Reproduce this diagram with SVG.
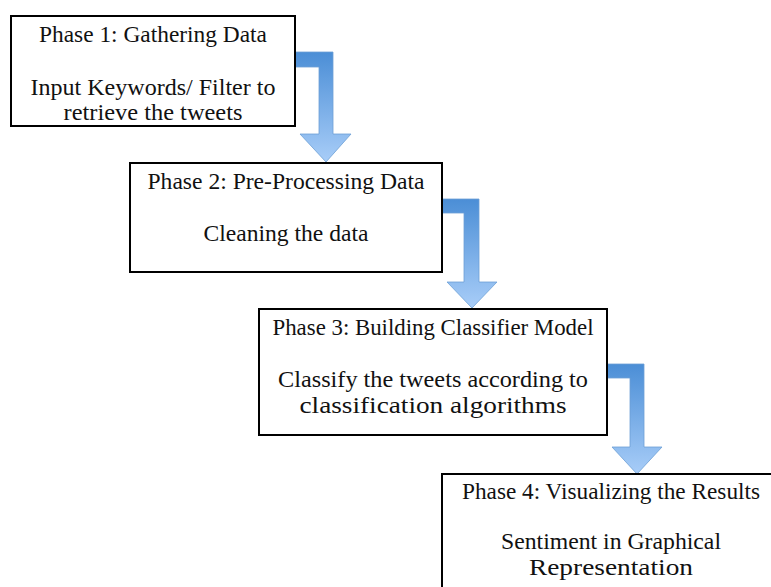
<svg xmlns="http://www.w3.org/2000/svg" width="771" height="587" viewBox="0 0 771 587">
  <defs>
    <linearGradient id="blueGrad" x1="0" y1="0" x2="0" y2="1">
      <stop offset="0" stop-color="#4b8ed6"/>
      <stop offset="1" stop-color="#a8cdf8"/>
    </linearGradient>
    <style>
      .box { fill: #ffffff; stroke: #000000; stroke-width: 2; }
      .lbl { font-family: "Liberation Serif", "Times New Roman", serif; font-size: 23px; fill: #111111; text-anchor: middle; }
      .arrow { fill: url(#blueGrad); stroke: #6c9fd6; stroke-width: 0.8; stroke-linejoin: miter; }
    </style>
  </defs>
  <rect width="771" height="587" fill="#ffffff"/>

  <g id="connectors">
    <path class="arrow" d="M295,52 L333,52 L333,134 L351,134 L326,162 L300,134 L319,134 L319,67 L295,67 Z"/>
    <path class="arrow" d="M442,199 L479,199 L479,282 L497,282 L472,308 L447,282 L464,282 L464,213 L442,213 Z"/>
    <path class="arrow" d="M607,364 L644,364 L644,447 L662,447 L637,474 L612,447 L630,447 L630,378 L607,378 Z"/>
  </g>

  <g id="phase1">
    <rect class="box" x="11" y="16" width="284" height="110"/>
    <text class="lbl" x="153" y="42" textLength="228" lengthAdjust="spacingAndGlyphs">Phase 1: Gathering Data</text>
    <text class="lbl" x="153" y="95" textLength="245" lengthAdjust="spacingAndGlyphs">Input Keywords/ Filter to</text>
    <text class="lbl" x="153" y="120" textLength="179" lengthAdjust="spacingAndGlyphs">retrieve the tweets</text>
  </g>

  <g id="phase2">
    <rect class="box" x="130" y="163" width="312" height="109"/>
    <text class="lbl" x="286" y="189" textLength="277" lengthAdjust="spacingAndGlyphs">Phase 2: Pre-Processing Data</text>
    <text class="lbl" x="286" y="241" textLength="165" lengthAdjust="spacingAndGlyphs">Cleaning the data</text>
  </g>

  <g id="phase3">
    <rect class="box" x="259" y="309" width="348" height="126"/>
    <text class="lbl" x="433" y="335" textLength="321" lengthAdjust="spacingAndGlyphs">Phase 3: Building Classifier Model</text>
    <text class="lbl" x="433" y="387" textLength="310" lengthAdjust="spacingAndGlyphs">Classify the tweets according to</text>
    <text class="lbl" x="433" y="413" textLength="267" lengthAdjust="spacingAndGlyphs">classification algorithms</text>
  </g>

  <g id="phase4">
    <rect class="box" x="442" y="474" width="338" height="140"/>
    <text class="lbl" x="611" y="499" textLength="298" lengthAdjust="spacingAndGlyphs">Phase 4: Visualizing the Results</text>
    <text class="lbl" x="611" y="549" textLength="220" lengthAdjust="spacingAndGlyphs">Sentiment in Graphical</text>
    <text class="lbl" x="611" y="575" textLength="164" lengthAdjust="spacingAndGlyphs">Representation</text>
  </g>
</svg>
